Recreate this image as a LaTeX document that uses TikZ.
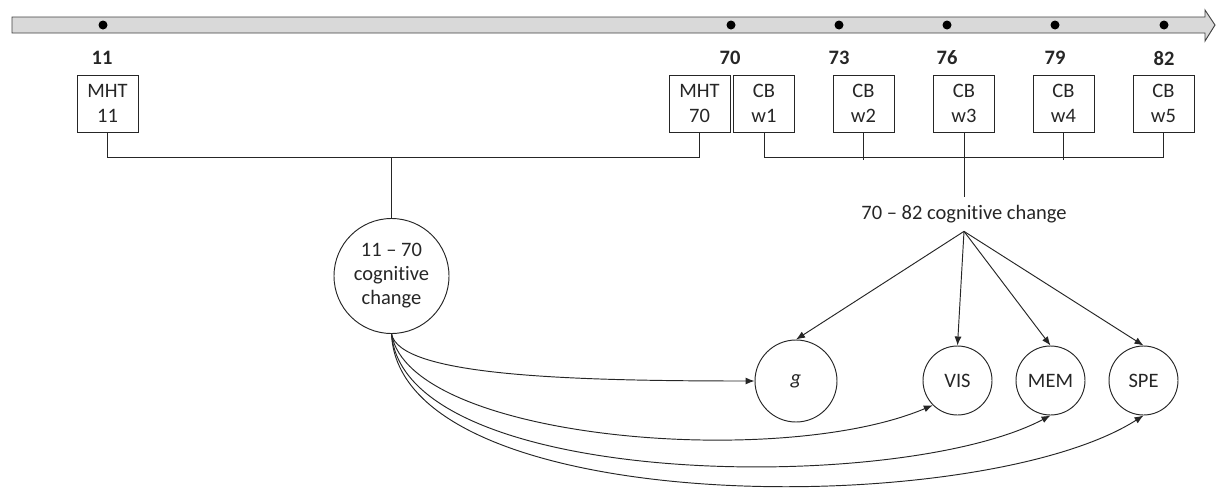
\documentclass[tikz,border=0pt]{standalone}
\usepackage{fontspec}
\setmainfont{Carlito}[Ligatures={NoCommon,NoRare,NoContextual}]
\usetikzlibrary{arrows.meta}
\definecolor{ink}{HTML}{262626}
\definecolor{barfill}{HTML}{D9D9D9}
\definecolor{barline}{HTML}{404040}
\begin{document}
\begin{tikzpicture}[x=1pt,y=-1pt,
  font=\fontsize{20.5}{25}\selectfont,
  line width=0.95pt,
  box/.style={draw=ink, minimum width=61pt, minimum height=57pt, inner sep=0pt, align=center, text=ink},
  year/.style={font=\fontsize{20.5}{25}\selectfont\bfseries, inner sep=0pt, text=ink},
  tick/.style={circle, fill=black, inner sep=0pt, minimum size=9pt},
  factor/.style={circle, draw=ink, inner sep=0pt, minimum size=69pt, text=ink},
  link/.style={draw=ink},
  arr/.style={draw=ink, -{Latex[length=9pt,width=7pt]}}
]
\useasboundingbox (0,0) rectangle (1216,488);

% time axis
\draw[draw=barline, fill=barfill] (12,17) -- (1205,17) -- (1205,10) -- (1215,25)
  -- (1205,41) -- (1205,33) -- (12,33) -- cycle;
\node[tick] (t11) at (103,25) {};
\node[tick] (t70) at (731,25) {};
\node[tick] (t73) at (839,25) {};
\node[tick] (t76) at (947,25) {};
\node[tick] (t79) at (1055,25) {};
\node[tick] (t82) at (1164,25) {};

% ages
\node[year] (y11) at (102,58) {11};
\node[year] (y70) at (730,58) {70};
\node[year] (y73) at (839,58) {73};
\node[year] (y76) at (947,58) {76};
\node[year] (y79) at (1055,58) {79};
\node[year] (y82) at (1164,58) {82};

% measurement occasions
\node[box] (mht11) at (107.5,103.5) {MHT\\11};
\node[box] (mht70) at (699.5,103.5) {MHT\\70};
\node[box] (w1) at (764,103.5) {CB\\w1};
\node[box] (w2) at (863.5,103.5) {CB\\w2};
\node[box] (w3) at (964,103.5) {CB\\w3};
\node[box] (w4) at (1063.5,103.5) {CB\\w4};
\node[box] (w5) at (1163.5,103.5) {CB\\w5};

% change factors
\node[circle, draw=ink, minimum size=115pt, inner sep=0pt, align=center, text=ink,
  font=\fontsize{20.5}{24}\selectfont] (c1170) at (391.5,276) {11 – 70\\cognitive\\change};
\node[inner ysep=8pt, inner xsep=0pt, text=ink] (c7082) at (964,214) {70 – 82 cognitive change};

% outcomes
\node[factor, minimum size=82pt] (g) at (796,381) {\itshape g};
\node[factor] (vis) at (957.5,380.5) {VIS};
\node[factor] (mem) at (1050.5,380.5) {MEM};
\node[factor] (spe) at (1143.5,380.5) {SPE};

% brackets joining occasions
\draw[link] (mht11.south) -- ++(0,25) -| (mht70.south);
\coordinate (j1) at (391.5,157);
\draw[link] (j1) -- (c1170.north);
\draw[link] (w1.south) -- ++(0,25) -| (w5.south);
\draw[link] (w2.south) -- ++(0,28);
\draw[link] (w4.south) -- ++(0,28);
\draw[link] (w3.south) -- (c7082.north);

% paths from 70-82 change
\draw[arr] (c7082.south) -- (g.north);
\draw[arr] (c7082.south) -- (vis.north);
\draw[arr] (c7082.south) -- (mem.north);
\draw[arr] (c7082.south) -- (spe.north);

% paths from 11-70 change
\draw[arr] (c1170.south) .. controls (400,375) and (560,381) .. (g.west);
\draw[arr] (c1170.south) .. controls (410,440) and (780,470) .. (vis.225);
\draw[arr] (c1170.south) .. controls (405,490) and (900,495) .. (mem.south);
\draw[arr] (c1170.south) .. controls (400,520) and (980,520) .. (spe.south);
\end{tikzpicture}
\end{document}
